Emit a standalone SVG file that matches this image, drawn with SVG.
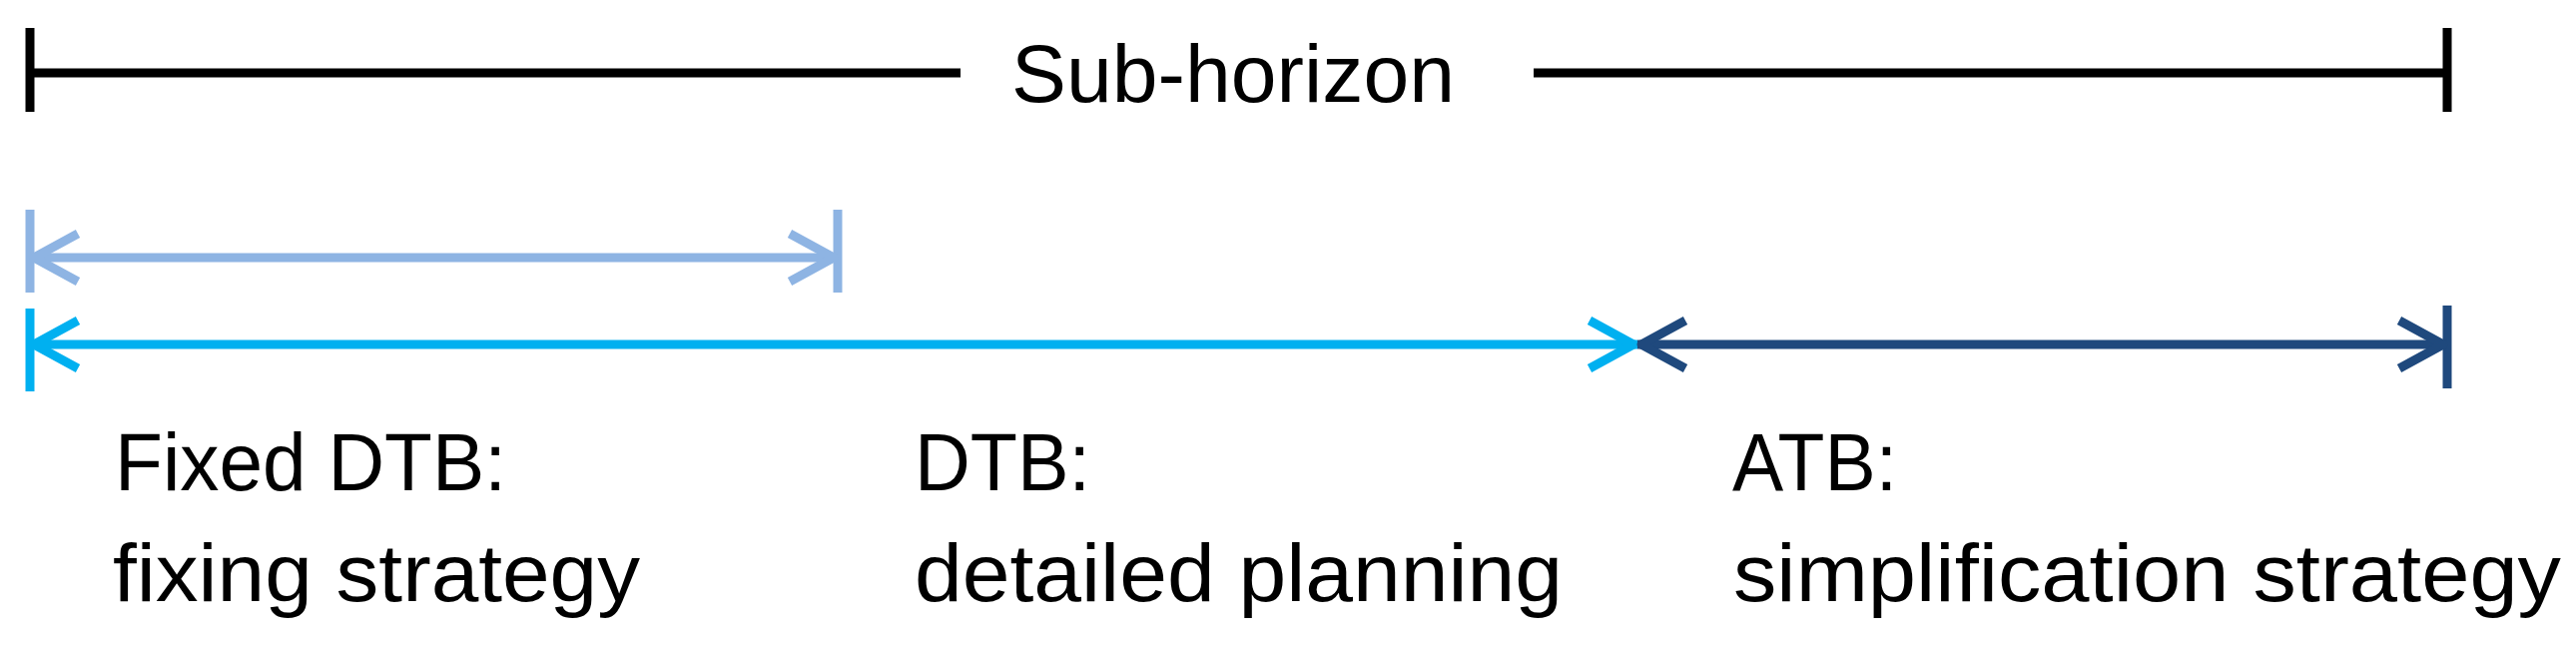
<svg xmlns="http://www.w3.org/2000/svg" width="2580" height="648" viewBox="0 0 2580 648">
<style>
  .lbl { font-family: "Liberation Sans", Arial, sans-serif; font-size: 82px; fill: #000; }
  .blk { stroke: #000; stroke-width: 9; fill: none; }
  .lb { stroke: #8EB4E3; stroke-width: 9; fill: none; }
  .cy { stroke: #00B0F0; stroke-width: 9; fill: none; }
  .db { stroke: #1F497D; stroke-width: 9; fill: none; }
</style>
<defs>
  <marker id="chevLB" markerUnits="userSpaceOnUse" viewBox="-6 -6 60 68" markerWidth="60" markerHeight="68" refX="48" refY="28" orient="auto-start-reverse" overflow="visible">
    <path d="M0,4 L44,28 L0,52" fill="none" stroke="#8EB4E3" stroke-width="9" stroke-linejoin="round"/>
  </marker>
  <marker id="chevCY" markerUnits="userSpaceOnUse" viewBox="-6 -6 60 68" markerWidth="60" markerHeight="68" refX="48" refY="28" orient="auto-start-reverse" overflow="visible">
    <path d="M0,4 L44,28 L0,52" fill="none" stroke="#00B0F0" stroke-width="9" stroke-linejoin="round"/>
  </marker>
  <marker id="chevDB" markerUnits="userSpaceOnUse" viewBox="-6 -6 60 68" markerWidth="60" markerHeight="68" refX="48" refY="28" orient="auto-start-reverse" overflow="visible">
    <path d="M0,4 L44,28 L0,52" fill="none" stroke="#1F497D" stroke-width="9" stroke-linejoin="round"/>
  </marker>
</defs>

<g id="connectors">
  <!-- Sub-horizon bracket -->
  <line class="blk" x1="30" y1="28" x2="30" y2="112"/>
  <line class="blk" x1="2451" y1="28" x2="2451" y2="112"/>
  <line class="blk" x1="30" y1="73" x2="962" y2="73"/>
  <line class="blk" x1="1536" y1="73" x2="2451" y2="73"/>
  <!-- Fixed DTB -->
  <line class="lb" x1="30" y1="210" x2="30" y2="293"/>
  <line class="lb" x1="839" y1="210" x2="839" y2="293"/>
  <line class="lb" x1="30" y1="258" x2="839" y2="258" marker-start="url(#chevLB)" marker-end="url(#chevLB)"/>
  <!-- DTB -->
  <line class="cy" x1="30" y1="309" x2="30" y2="392"/>
  <line class="cy" x1="30" y1="345" x2="1640" y2="345" marker-start="url(#chevCY)" marker-end="url(#chevCY)"/>
  <!-- ATB -->
  <line class="db" x1="2451" y1="306" x2="2451" y2="389"/>
  <line class="db" x1="1640" y1="345" x2="2451" y2="345" marker-start="url(#chevDB)" marker-end="url(#chevDB)"/>
</g>

<g id="sub-horizon">
  <text class="lbl" x="1013" y="102" textLength="444" lengthAdjust="spacingAndGlyphs">Sub-horizon</text>
</g>
<g id="fixed-dtb">
  <text class="lbl" x="115" y="491" textLength="392" lengthAdjust="spacingAndGlyphs">Fixed DTB:</text>
  <text class="lbl" x="113" y="602" textLength="528" lengthAdjust="spacingAndGlyphs">fixing strategy</text>
</g>
<g id="dtb">
  <text class="lbl" x="916" y="491" textLength="176" lengthAdjust="spacingAndGlyphs">DTB:</text>
  <text class="lbl" x="916" y="602" textLength="649" lengthAdjust="spacingAndGlyphs">detailed planning</text>
</g>
<g id="atb">
  <text class="lbl" x="1735" y="491" textLength="165" lengthAdjust="spacingAndGlyphs">ATB:</text>
  <text class="lbl" x="1736" y="602" textLength="829" lengthAdjust="spacingAndGlyphs">simplification strategy</text>
</g>
</svg>
